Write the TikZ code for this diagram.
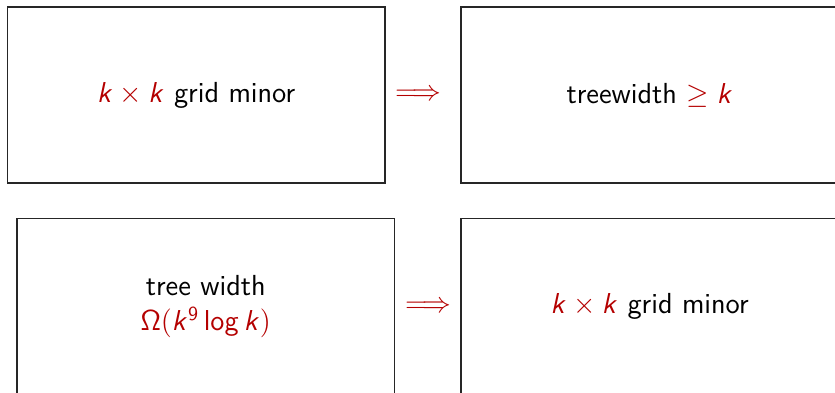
\documentclass[tikz,border=0pt]{standalone}
\DeclareMathAlphabet{\msf}{OT1}{cmss}{m}{n}
\DeclareMathAlphabet{\msfi}{OT1}{cmss}{m}{sl}
\definecolor{alertred}{RGB}{180,0,0}
\newcommand{\kk}{\msfi{k}}
\begin{document}
\begin{tikzpicture}[x=0.5pt,y=-0.5pt,
  panel/.style={draw=black!85, line width=0.6pt, minimum width=188.75pt, minimum height=88pt,
    inner sep=0pt, align=center, font=\sffamily\fontsize{14.5pt}{17.8pt}\selectfont},
  implies/.style={inner sep=0pt, text=alertred, font=\fontsize{14.2pt}{17.5pt}\selectfont}]
\useasboundingbox (0,0) rectangle (835,392);
\node[panel] (tl) at (196.25,95) {$\color{alertred}\kk\times\kk$ grid minor};
\node[panel] (tr) at (649.75,95) {treewidth $\color{alertred}\geq\kk$};
\node[panel] (bl) at (205.75,306.5) {tree width\\ \color{alertred}$\msf{\Omega}(\kk^{\msf{9}}\mathop{\msf{log}}\nolimits\kk)$};
\node[panel] (br) at (649.75,306.5) {$\color{alertred}\kk\times\kk$ grid minor};
\node[implies] (a1) at (418,95) {$\Longrightarrow$};
\node[implies] (a2) at (428,307) {$\Longrightarrow$};
\end{tikzpicture}
\end{document}
